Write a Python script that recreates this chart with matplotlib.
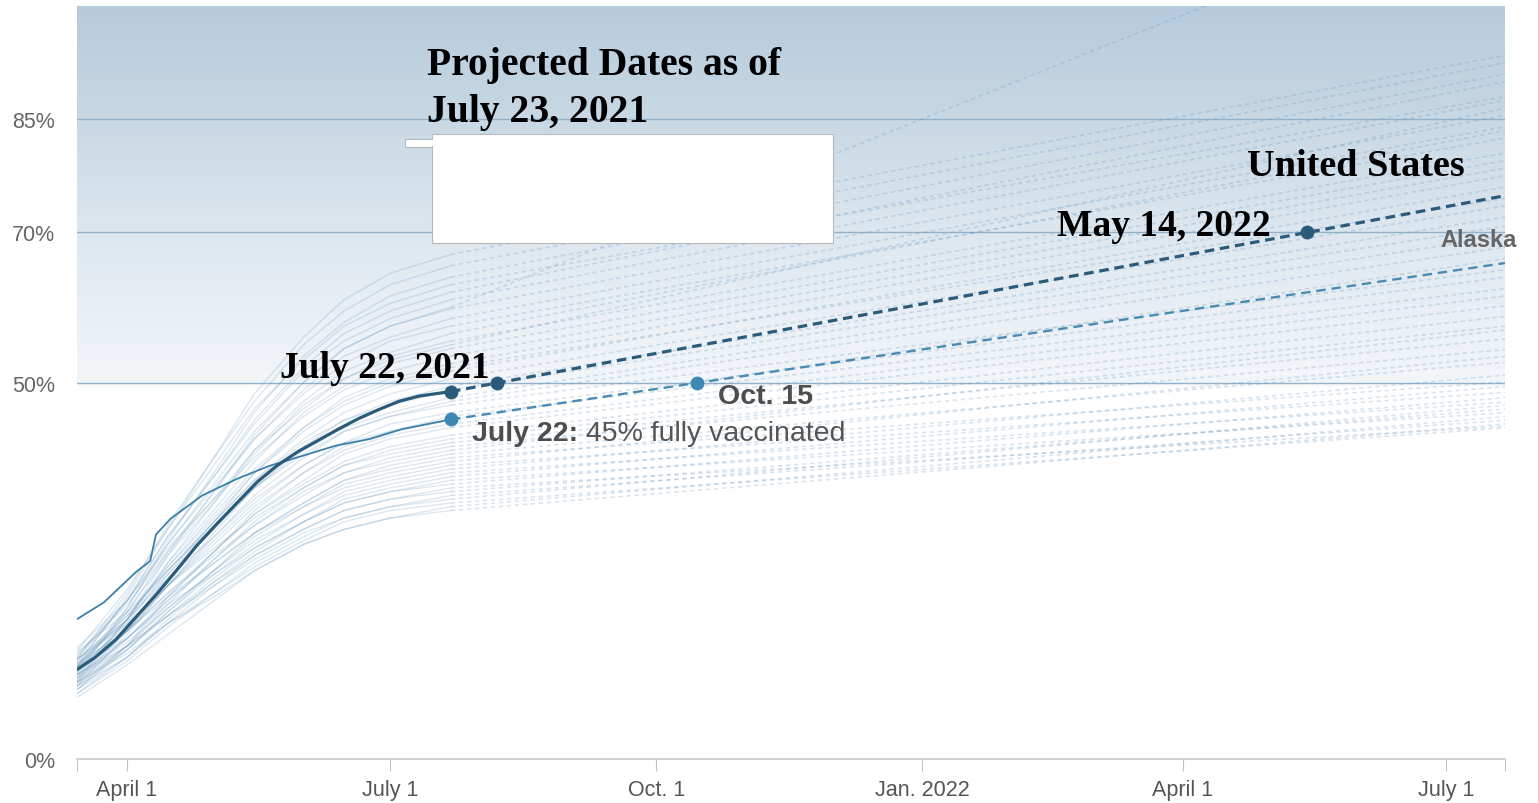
import matplotlib
matplotlib.use("Agg")
import matplotlib.pyplot as plt
import matplotlib.dates as mdates
from matplotlib.patches import Rectangle
from matplotlib.colors import LinearSegmentedColormap
import numpy as np
from datetime import datetime

# ---------------- data ----------------
# State curves (fully vaccinated, %), one list per checkpoint date, one entry per state
state_dates = ["2021-03-14", "2021-04-01", "2021-04-15", "2021-05-01", "2021-05-15",
               "2021-06-01", "2021-06-15", "2021-07-01", "2021-07-22"]
s_mar14 = [12, 13, 11, 14, 12.5, 13, 10, 12, 11.5, 13.5, 10.5, 12, 11, 14.5, 10, 12, 11.5, 9.5, 13, 12.5,
           10.5, 14, 11, 9, 12, 10, 11.5, 9.5, 13, 10.5, 12, 9, 11, 10, 12.5, 9.5, 11, 8.5, 10, 12,
           9, 10.5, 8.5, 11, 9.5, 8, 10, 13.5, 13, 12]
s_apr01 = [21.5, 22, 20, 22.5, 21, 21, 18.5, 20, 19.5, 21, 18.5, 19.5, 18.5, 21, 17, 18.5, 18, 16.5, 19, 18.5,
           17, 19.5, 17, 15, 17.5, 16, 17, 15, 18, 16, 17, 14.5, 16, 15, 17, 14.5, 15.5, 13.5, 14.5, 16,
           13.5, 15, 13, 15, 13.5, 12.5, 14, 20.5, 18.5, 19]
s_apr15 = [30.5, 31, 29, 30.5, 29.5, 29.5, 27, 28.5, 27.5, 28.5, 26, 27, 26, 28, 24.5, 25.5, 25, 23, 25, 24.5,
           23, 25, 23, 21.5, 23, 21.5, 22, 20.5, 23, 21, 22, 19.5, 21, 20, 21.5, 19.5, 20, 18.5, 19, 20.5,
           18, 19, 17.5, 19, 18, 16.5, 18, 27.5, 24, 25.5]
s_may01 = [40, 40, 38, 39, 37.5, 37.5, 35.5, 36.5, 35.5, 36, 34, 34, 33, 34.5, 31.5, 32, 31.5, 30, 31.5, 30.5,
           29.5, 31, 29, 27.5, 28.5, 27.5, 27.5, 26.5, 28, 26.5, 27, 25, 26, 25, 26, 24.5, 25, 23.5, 24, 24.5,
           23, 23.5, 22, 23, 22, 21, 21.5, 34.5, 29.5, 32.5]
s_may15 = [48.5, 47.5, 46, 46.5, 45, 44.5, 43, 43.5, 42.5, 42.5, 41, 40.5, 39.5, 40, 38, 38, 37, 36, 37, 36,
           35, 36, 34, 33, 33.5, 32.5, 32.5, 31.5, 32, 31, 31, 30, 30, 29.5, 30, 28.5, 29, 27.5, 28, 28,
           27, 27, 26, 26.5, 25.5, 25, 25, 41, 34.5, 38.5]
s_jun01 = [56, 55, 53.5, 53, 52, 51.5, 50, 50, 49, 48.5, 47.5, 47, 46, 45.5, 44, 43.5, 42.5, 41.5, 42, 41,
           40, 40.5, 39, 38, 38, 37, 36.5, 36, 36, 35.5, 35, 34, 34, 33.5, 33.5, 32.5, 32.5, 31.5, 31.5, 31.5,
           30.5, 30.5, 29.5, 30, 29, 28.5, 28.5, 46.5, 39, 44]
s_jun15 = [61, 59.5, 58, 57.5, 56.5, 55.5, 54.5, 54.5, 53.5, 52.5, 51.5, 50.5, 49.5, 49, 48, 47, 46, 45, 45, 44,
           43.5, 43.5, 42, 41.5, 41, 40.5, 39.5, 39, 39, 38, 38, 37, 37, 36.5, 36, 35.5, 35, 34.5, 34, 34,
           33, 33, 32, 32, 31.5, 30.5, 30.5, 50.5, 42, 47.5]
s_jul01 = [64.5, 63, 61.5, 60.5, 59.5, 58.5, 57.5, 57.5, 56, 55.5, 54, 53.5, 52.5, 51.5, 50.5, 49.5, 48.5, 47.5, 47, 46,
           45.5, 45.5, 44.5, 43.5, 43, 42.5, 41.5, 41, 40.5, 40, 39.5, 39, 38.5, 38, 37.5, 37, 36.5, 36, 35.5, 35.5,
           34.5, 34.5, 33.5, 33.5, 33, 32, 32, 53, 43.5, 50]
s_jul22 = [67, 65.5, 64, 63, 62, 61, 60, 59.8, 58.5, 57.5, 56.5, 55.5, 54.5, 53.5, 52.5, 51.5, 50.5, 49.5, 49, 48,
           47.5, 47, 46, 45.5, 44.5, 44, 43, 42.5, 42, 41.5, 41, 40.5, 40, 39.5, 39, 38.5, 38, 37.5, 37, 36.5,
           36, 35.5, 35, 34.5, 34, 33.5, 33, 55, 45, 52]
# projected value one year later (end of chart)
proj_date = "2022-07-22"
s_proj_end = [93.5, 92.5, 91, 88, 90, 87.5, 116, 85.5, 84, 82.5, 83.5, 80.5, 79.5, 78.5, 77.5, 76, 73.5, 72, 70.8, 69.5,
              68, 65, 64, 62.5, 61.5, 60.2, 58.8, 57.5, 55.8, 54.4, 57, 52.7, 50.1, 53.5, 48.7, 51, 47.4, 49.5, 46, 48,
              44.2, 46.5, 45, 47, 44, 45.5, 44.5, 86.5, 66.5, 74.5]

# United States
us_dates = ["2021-03-14", "2021-03-21", "2021-03-28", "2021-04-04", "2021-04-11", "2021-04-18", "2021-04-25",
            "2021-05-02", "2021-05-09", "2021-05-16", "2021-05-23", "2021-05-30", "2021-06-06", "2021-06-13",
            "2021-06-20", "2021-06-27", "2021-07-04", "2021-07-11", "2021-07-22"]
us_vals = [11.7, 13.5, 15.8, 18.8, 21.8, 25.0, 28.3, 31.2, 34.0, 36.8, 39.0, 40.8, 42.3, 43.8, 45.2, 46.4, 47.5, 48.2, 48.8]
us_proj_dates = ["2021-07-22", "2022-07-22"]
us_proj_vals = [48.8, 74.85]
us_mark_dates = ["2021-07-22", "2021-08-07", "2022-05-14"]
us_mark_vals = [48.8, 50, 70]

# Alaska
ak_dates = ["2021-03-14", "2021-03-24", "2021-04-04", "2021-04-09", "2021-04-11", "2021-04-16", "2021-04-27",
            "2021-05-09", "2021-05-20", "2021-06-01", "2021-06-12", "2021-06-24", "2021-07-05", "2021-07-22"]
ak_vals = [18.4, 20.8, 24.8, 26.3, 29.8, 31.9, 35.0, 37.2, 38.9, 40.3, 41.6, 42.5, 43.8, 45.1]
ak_proj_dates = ["2021-07-22", "2022-07-22"]
ak_proj_vals = [45.1, 65.9]
ak_mark_dates = ["2021-07-22", "2021-10-15"]
ak_mark_vals = [45.1, 50]

y_ticks = [0, 50, 70, 85]
y_labels = ["0%", "50%", "70%", "85%"]
x_tick_dates = ["2021-04-01", "2021-07-01", "2021-10-01", "2022-01-01", "2022-04-01", "2022-07-01"]
x_tick_labels = ["April 1", "July 1", "Oct. 1", "Jan. 2022", "April 1", "July 1"]

# ---------------- drawing ----------------
def D(s):
    return mdates.date2num(datetime.fromisoformat(s))

W, H = 1538, 804
fig = plt.figure(figsize=(W / 100, H / 100), dpi=100)
L, R, B, T = 77, 1505, 760, 7
ax = fig.add_axes([L / W, 1 - B / H, (R - L) / W, (B - T) / H])

x0 = D("2021-04-01") - 17.3
x1 = D("2022-07-01") + 20.4

SANS = "Liberation Sans"
SERIF = "Liberation Serif"

# background gradient
grad = np.linspace(0, 1, 512).reshape(-1, 1)
g0, g1 = 49.0, 100.0
def gp(v):
    return (v - g0) / (g1 - g0)
bg_cmap = LinearSegmentedColormap.from_list(
    "bg", [(0.0, "#ffffff"), (gp(50), "#f3f6f9"), (gp(70), "#dde7ef"),
           (gp(85), "#c8d8e4"), (1.0, "#b5cbdc")])
ax.imshow(grad, extent=[x0, x1, g0, g1], origin="lower", aspect="auto",
          cmap=bg_cmap, zorder=0, interpolation="bilinear")

# gridlines
for yv in y_ticks[1:]:
    ax.axhline(yv, color="#93b2ca", lw=1.0, zorder=1)

# states
sd = [D(d) for d in state_dates]
cols = [s_mar14, s_apr01, s_apr15, s_may01, s_may15, s_jun01, s_jun15, s_jul01, s_jul22]
pe = D(proj_date)
state_col = "#5289b5"
for i in range(len(s_jul22)):
    ys = [c[i] for c in cols]
    ax.plot(sd, ys, color=state_col, alpha=0.2, lw=1.0, zorder=2, solid_joinstyle="round")
    ax.plot([sd[-1], pe], [s_jul22[i], s_proj_end[i]], color=state_col, alpha=0.22,
            lw=1.2, dashes=(2.6, 2.2), zorder=2)

# Alaska
ak_c = "#3b80a9"
ax.plot([D(d) for d in ak_dates], ak_vals, color=ak_c, lw=1.3, zorder=3)
ax.plot([D(d) for d in ak_proj_dates], ak_proj_vals, color="#4a8bb4", lw=1.7,
        dashes=(4, 2.5), zorder=3)
ax.plot([D(d) for d in ak_mark_dates], ak_mark_vals, "o", ms=10, color="#3d89b4",
        mec="none", zorder=5)

# United States
us_c = "#2b5b7b"
ax.plot([D(d) for d in us_dates], us_vals, color=us_c, lw=2.3, zorder=4,
        solid_joinstyle="round", solid_capstyle="round")
ax.plot([D(d) for d in us_proj_dates], us_proj_vals, color=us_c, lw=2.3,
        dashes=(3, 1.8), zorder=4)
ax.plot([D(d) for d in us_mark_dates], us_mark_vals, "o", ms=10, color=us_c,
        mec="none", zorder=5)

ax.set_xlim(x0, x1)
ax.set_ylim(0, 100)

# axes styling
for s in ["left", "right", "top"]:
    ax.spines[s].set_visible(False)
ax.spines["bottom"].set_color("#c4c4c4")
ax.spines["bottom"].set_linewidth(1.1)
ax.spines["bottom"].set_zorder(6)

ax.set_yticks(y_ticks)
ax.set_yticklabels(y_labels, fontsize=15.5, color="#666666", family=SANS)
ax.tick_params(axis="y", length=0, pad=16)

ax.set_xticks([D(d) for d in x_tick_dates])
ax.set_xticklabels(x_tick_labels, fontsize=15.5, color="#555555", family=SANS)
ax.set_xticks([x0, x1], minor=True)
ax.tick_params(axis="x", which="both", direction="out", length=8.6, width=0.8,
               color="#c4c4c4", pad=6)

# annotations
serif_kw = dict(family=SERIF, weight="bold", color="black", zorder=8)
ax.text(D("2021-07-13") + 0.7, 91.0, "Projected Dates as of", ha="left", va="baseline",
        fontsize=28.5, **serif_kw)
ax.text(D("2021-07-13") + 0.7, 84.7, "July 23, 2021", ha="left", va="baseline",
        fontsize=28.5, **serif_kw)
ax.text(D("2021-08-04") + 0.5, 50.7, "July 22, 2021", ha="right", va="baseline",
        fontsize=27, **serif_kw)
ax.text(D("2022-07-07") + 0.6, 77.6, "United States", ha="right", va="baseline",
        fontsize=27.5, **serif_kw)
ax.text(D("2022-05-01") + 0.5, 69.6, "May 14, 2022", ha="right", va="baseline",
        fontsize=27, **serif_kw)

ax.text(D("2022-06-29"), 68.1, "Alaska", ha="left", va="baseline",
        family=SANS, weight="bold", fontsize=17, color="#666666", zorder=8)
ax.text(D("2021-10-22") + 0.3, 47.3, "Oct. 15", ha="left", va="baseline",
        family=SANS, weight="bold", fontsize=20.5, color="#4d4d4d", zorder=8)
t1 = ax.text(D("2021-07-29") + 0.3, 42.4, "July 22:", ha="left", va="baseline",
             family=SANS, weight="bold", fontsize=20.5, color="#4d4d4d", zorder=8)
ax.annotate(" 45% fully vaccinated", xy=(1, 0), xycoords=t1, xytext=(0, 0),
            textcoords="offset points", ha="left", va="bottom",
            family=SANS, fontsize=20.5, color="#555555", zorder=8)

# white box covering area
fig.add_artist(Rectangle((405 / W, 1 - 148 / H), 30 / W, 8 / H, transform=fig.transFigure,
                         facecolor="white", edgecolor="#b8b8b8", lw=0.8, zorder=10))
fig.add_artist(Rectangle((432 / W, 1 - 244 / H), 401 / W, 109 / H, transform=fig.transFigure,
                         facecolor="white", edgecolor="#b8b8b8", lw=0.8, zorder=11))
fig.add_artist(Rectangle((431 / W, 1 - 147.3 / H), 3 / W, 6.6 / H, transform=fig.transFigure,
                         facecolor="white", edgecolor="none", zorder=12))

fig.savefig("out.png", dpi=100)
